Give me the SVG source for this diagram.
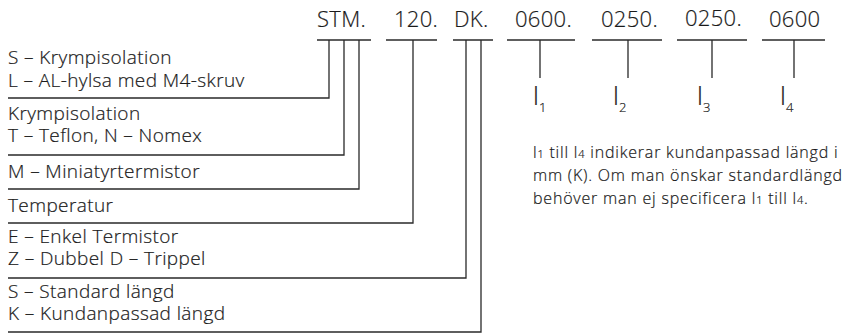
<svg xmlns="http://www.w3.org/2000/svg" width="849" height="334" viewBox="0 0 849 334">
<style>
text{font-family:"Open Sans","Noto Sans","Liberation Sans",sans-serif;fill:#1a1a1a;font-weight:300;stroke:#1a1a1a;stroke-width:0.2px}
.h{font-size:22px;letter-spacing:0.3px}
.lab{font-size:19px;letter-spacing:0.4px}
.p{font-size:16px;letter-spacing:0.8px}
.ll{font-size:26px}
.sub{font-size:13px}
.ln{stroke:#2a2a2a;stroke-width:1.3;fill:none}
</style>
<rect width="849" height="334" fill="#fff"/>
<g id="code">
<text class="h" x="317" y="27">STM.</text>
<text class="h" x="394" y="27">120.</text>
<text class="h" x="454" y="27">DK.</text>
<text class="h" x="515" y="27">0600.</text>
<text class="h" x="601" y="27">0250.</text>
<text class="h" x="685" y="26">0250.</text>
<text class="h" x="769" y="27">0600</text>
</g>
<g id="labels">
<g id="n-stm1"><text class="lab" x="8" y="64">S – Krympisolation</text><text class="lab" x="8" y="87">L – AL-hylsa med M4-skruv</text></g>
<g id="n-stm2"><text class="lab" x="8" y="120">Krympisolation</text><text class="lab" x="8" y="142">T – Teflon, N – Nomex</text></g>
<g id="n-stm3"><text class="lab" x="8" y="178">M – Miniatyrtermistor</text></g>
<g id="n-120"><text class="lab" x="8" y="212">Temperatur</text></g>
<g id="n-dk1"><text class="lab" x="8" y="243">E – Enkel Termistor</text><text class="lab" x="8" y="265">Z – Dubbel D – Trippel</text></g>
<g id="n-dk2"><text class="lab" x="8" y="298">S – Standard längd</text><text class="lab" x="8" y="320">K – Kundanpassad längd</text></g>
<g id="n-l1"><text class="ll" x="533" y="105">l<tspan class="sub" dy="7">1</tspan></text></g>
<g id="n-l2"><text class="ll" x="613" y="105">l<tspan class="sub" dy="7">2</tspan></text></g>
<g id="n-l3"><text class="ll" x="697" y="105">l<tspan class="sub" dy="7">3</tspan></text></g>
<g id="n-l4"><text class="ll" x="780" y="105">l<tspan class="sub" dy="7">4</tspan></text></g>
<g id="n-note">
<text class="p" x="533" y="158">l<tspan font-size="11">1</tspan> till l<tspan font-size="11">4</tspan> indikerar kundanpassad längd i</text>
<text class="p" x="533" y="181">mm (K). Om man önskar standardlängd</text>
<text class="p" x="533" y="204">behöver man ej specificera l<tspan font-size="11">1</tspan> till l<tspan font-size="11">4</tspan>.</text>
</g>
</g>
<g id="connectors" class="ln">
<path d="M317 40H371M386 40H437M453 40H493M507 40H575M592 40H662M677 40H747M762 40H825"/>
<path d="M329 40V98H8"/>
<path d="M344 40V155H8"/>
<path d="M359 40V189H8"/>
<path d="M413 40V223H8"/>
<path d="M466 40V278H8"/>
<path d="M481 40V332H8"/>
<path d="M540 40V78M628 40V78M712 40V78M794 40V78"/>
</g>
</svg>
